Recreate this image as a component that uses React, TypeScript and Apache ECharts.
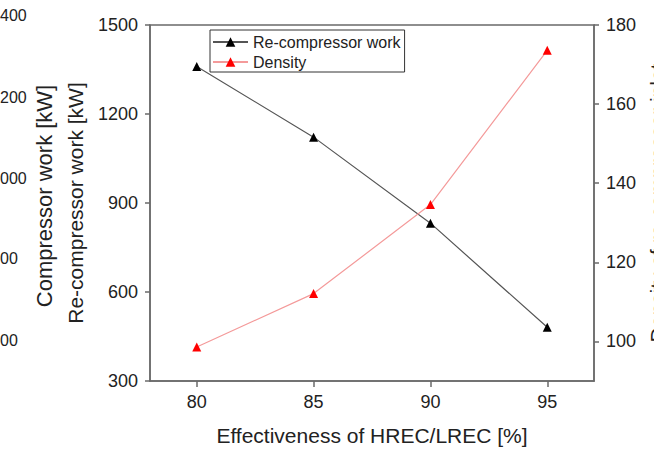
import React, { useEffect, useRef } from "react";
import * as echarts from "echarts";

const xValues = [80, 85, 90, 95];
const recompressorWork = [1360, 1122, 832, 481];
const density = [98.6, 112.1, 134.6, 173.6];
const xTicks = [80, 85, 90, 95];
const densityTicks = [100, 120, 140, 160, 180];
const leftoverLabels = ["400", "200", "000", "00", "00"];

const FONT = "'Liberation Sans', Arial, sans-serif";

export default function App() {
  const ref = useRef<HTMLDivElement>(null);
  useEffect(() => {
    if (!ref.current) return;
    const chart = echarts.init(ref.current, undefined, { renderer: "svg" });
    const axisLineStyle = { color: "#6a6a6a", width: 1.5 };
    const labelStyle = { color: "#222", fontSize: 18, fontFamily: FONT };
    const leftoverY = [15, 97, 178, 258, 340];
    const plain = (v: number) => String(v);
    chart.setOption({
      animation: false,
      backgroundColor: "#fff",
      textStyle: { fontFamily: FONT },
      grid: {
        left: 150,
        right: 60,
        top: 25,
        bottom: 68,
        outerBoundsMode: "none",
        containLabel: false,
        show: true,
        borderColor: "#6a6a6a",
        borderWidth: 1.5,
        backgroundColor: "transparent",
      },
      legend: {
        left: 210,
        top: 30,
        orient: "vertical",
        itemWidth: 35,
        itemHeight: 12,
        itemGap: 4,
        padding: [4, 4, 2, 2],
        borderColor: "#333",
        borderWidth: 1,
        textStyle: { fontSize: 16, color: "#222", fontFamily: FONT, lineHeight: 16 },
        data: ["Re-compressor work", "Density"],
      },
      xAxis: {
        type: "value",
        min: 78,
        max: 97,
        name: "Effectiveness of HREC/LREC [%]",
        nameLocation: "middle",
        nameGap: 44,
        nameTextStyle: { fontSize: 21, color: "#222", fontFamily: FONT },
        axisLine: { lineStyle: axisLineStyle },
        axisTick: { show: true, length: 6, inside: false, lineStyle: axisLineStyle, customValues: xTicks },
        axisLabel: { ...labelStyle, margin: 12, customValues: xTicks, formatter: plain },
        splitLine: { show: false },
      },
      yAxis: [
        {
          type: "value",
          min: 300,
          max: 1500,
          interval: 300,
          position: "left",
          name: "Re-compressor work [kW]",
          nameLocation: "middle",
          nameGap: 64,
          nameTextStyle: { fontSize: 21, color: "#222", fontFamily: FONT },
          axisLine: { show: true, lineStyle: axisLineStyle },
          axisTick: { show: true, length: 5, lineStyle: axisLineStyle },
          axisLabel: { ...labelStyle, margin: 12, formatter: plain },
          splitLine: { show: false },
        },
        {
          type: "value",
          min: 90,
          max: 180,
          position: "right",
          name: "Density of re-compressor inlet",
          nameLocation: "middle",
          nameGap: 50,
          nameRotate: 90,
          nameTextStyle: { fontSize: 21, color: "#222", fontFamily: FONT },
          axisLine: { show: true, lineStyle: axisLineStyle },
          axisTick: { show: true, length: 5, lineStyle: axisLineStyle, customValues: densityTicks },
          axisLabel: { ...labelStyle, margin: 12, customValues: densityTicks, formatter: plain },
          splitLine: { show: false },
        },
      ],
      series: [
        {
          name: "Re-compressor work",
          type: "line",
          yAxisIndex: 0,
          data: xValues.map((x, i) => [x, recompressorWork[i]]),
          symbol: "triangle",
          symbolSize: 9,
          lineStyle: { color: "#555", width: 1.2 },
          itemStyle: { color: "#000" },
        },
        {
          name: "Density",
          type: "line",
          yAxisIndex: 1,
          data: xValues.map((x, i) => [x, density[i]]),
          symbol: "triangle",
          symbolSize: 9,
          lineStyle: { color: "#f49a9a", width: 1.2 },
          itemStyle: { color: "#ff0000" },
        },
      ],
      graphic: [
        ...leftoverLabels.map((t, i) => ({
          type: "text",
          x: 0,
          y: leftoverY[i],
          style: {
            text: t,
            fontSize: 16,
            fontFamily: FONT,
            fill: "#222",
            align: "left",
            verticalAlign: "middle",
          },
        })),
        {
          type: "text",
          x: 44,
          y: 196,
          rotation: Math.PI / 2,
          style: {
            text: "Compressor work [kW]",
            fontSize: 22,
            fontFamily: FONT,
            fill: "#222",
            align: "center",
            verticalAlign: "middle",
          },
        },
      ],
    });
    return () => chart.dispose();
  }, []);
  return (
    <div
      ref={ref}
      style={{ position: "fixed", left: 0, top: 0, width: 654, height: 449 }}
    />
  );
}
